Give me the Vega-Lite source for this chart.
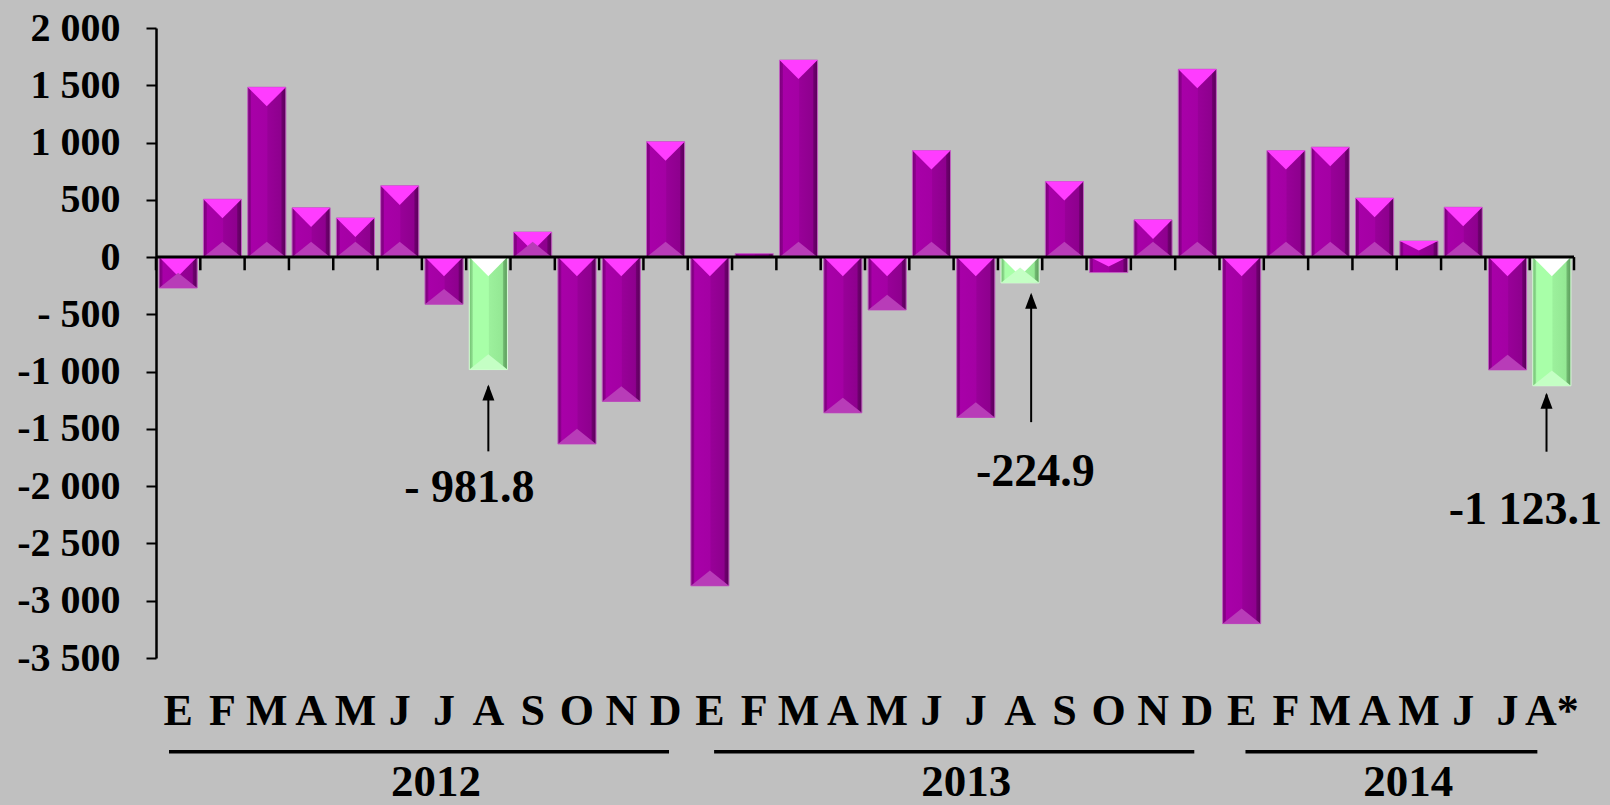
{
  "$schema": "https://vega.github.io/schema/vega-lite/v6.json",
  "width": 1418,
  "height": 630,
  "autosize": {"type": "none"},
  "padding": {"left": 156, "top": 28, "right": 36, "bottom": 147},
  "background": "#C0C0C0",
  "config": {
    "view": {"stroke": null},
    "font": "Liberation Serif",
    "axis": {"grid": false, "labelFont": "Liberation Serif", "labelFontWeight": "bold", "labelColor": "#000000", "domainColor": "#000000", "tickColor": "#000000"}
  },
  "data": {
    "values": [
      {"key": "2012-01:E", "value": -270, "hl": "n"},
      {"key": "2012-02:F", "value": 505, "hl": "n"},
      {"key": "2012-03:M", "value": 1483, "hl": "n"},
      {"key": "2012-04:A", "value": 430, "hl": "n"},
      {"key": "2012-05:M", "value": 342, "hl": "n"},
      {"key": "2012-06:J", "value": 622, "hl": "n"},
      {"key": "2012-07:J", "value": -412, "hl": "n"},
      {"key": "2012-08:A", "value": -981.8, "hl": "y"},
      {"key": "2012-09:S", "value": 219, "hl": "n"},
      {"key": "2012-10:O", "value": -1632, "hl": "n"},
      {"key": "2012-11:N", "value": -1260, "hl": "n"},
      {"key": "2012-12:D", "value": 1008, "hl": "n"},
      {"key": "2013-01:E", "value": -2870, "hl": "n"},
      {"key": "2013-02:F", "value": 30, "hl": "n"},
      {"key": "2013-03:M", "value": 1720, "hl": "n"},
      {"key": "2013-04:A", "value": -1360, "hl": "n"},
      {"key": "2013-05:M", "value": -462, "hl": "n"},
      {"key": "2013-06:J", "value": 930, "hl": "n"},
      {"key": "2013-07:J", "value": -1400, "hl": "n"},
      {"key": "2013-08:A", "value": -224.9, "hl": "y"},
      {"key": "2013-09:S", "value": 660, "hl": "n"},
      {"key": "2013-10:O", "value": -135, "hl": "n"},
      {"key": "2013-11:N", "value": 325, "hl": "n"},
      {"key": "2013-12:D", "value": 1640, "hl": "n"},
      {"key": "2014-01:E", "value": -3200, "hl": "n"},
      {"key": "2014-02:F", "value": 930, "hl": "n"},
      {"key": "2014-03:M", "value": 960, "hl": "n"},
      {"key": "2014-04:A", "value": 515, "hl": "n"},
      {"key": "2014-05:M", "value": 140, "hl": "n"},
      {"key": "2014-06:J", "value": 435, "hl": "n"},
      {"key": "2014-07:J", "value": -985, "hl": "n"},
      {"key": "2014-08:A*", "value": -1123.1, "hl": "y"}
    ]
  },
  "layer": [
    {
      "mark": {"type": "bar", "strokeWidth": 1},
      "encoding": {
        "x": {
          "field": "key", "type": "nominal", "sort": "ascending",
          "scale": {"type": "band", "paddingInner": 0.14, "paddingOuter": 0.07},
          "axis": {"title": null, "orient": "bottom", "domain": false, "ticks": false, "labelAngle": 0, "labelFontSize": 44, "labelPadding": 31, "labelOverlap": false, "labelBound": false, "labelExpr": "split(datum.value, ':')[1]"}
        },
        "y": {
          "field": "value", "type": "quantitative",
          "scale": {"domain": [-3500, 2000], "nice": false, "zero": true},
          "axis": {"title": null, "values": [-3500, -3000, -2500, -2000, -1500, -1000, -500, 0, 500, 1000, 1500, 2000], "labelFontSize": 40, "labelPadding": 26, "tickSize": 10, "tickWidth": 2, "domainWidth": 2.5,
            "labelExpr": "datum.value == -500 ? '- 500' : (datum.value < 0 ? '-' : '') + replace(format(abs(datum.value), ','), ',', ' ')"}
        },
        "fill": {
          "condition": {"test": "datum.hl == 'y'", "value": {"gradient": "linear", "x1": 0, "x2": 1, "y1": 0, "y2": 0, "stops": [
            {"offset": 0, "color": "#6FBF6F"}, {"offset": 0.08, "color": "#8EDC8E"}, {"offset": 0.1, "color": "#A8FFA8"}, {"offset": 0.5, "color": "#A8FFA8"}, {"offset": 0.53, "color": "#9CF09C"}, {"offset": 0.87, "color": "#94E894"}, {"offset": 0.9, "color": "#70B870"}, {"offset": 1, "color": "#5A9C5A"}]}},
          "value": {"gradient": "linear", "x1": 0, "x2": 1, "y1": 0, "y2": 0, "stops": [
            {"offset": 0, "color": "#780078"}, {"offset": 0.08, "color": "#8E008E"}, {"offset": 0.1, "color": "#A800A8"}, {"offset": 0.5, "color": "#A400A4"}, {"offset": 0.53, "color": "#980098"}, {"offset": 0.87, "color": "#8E008E"}, {"offset": 0.9, "color": "#6E006E"}, {"offset": 1, "color": "#5A005A"}]}
        },
        "stroke": {"condition": {"test": "datum.hl == 'y'", "value": "#D8FFD8"}, "value": "#C060C0"}
      }
    },
    {
      "transform": [{"filter": "datum.value >= 200"}],
      "mark": {"type": "point", "filled": true, "opacity": 1, "shape": "M-1,0 L1,0 L0,1 Z", "size": 1450},
      "encoding": {
        "x": {"field": "key", "type": "nominal", "sort": "ascending"},
        "y": {"field": "value", "type": "quantitative"},
        "fill": {"condition": {"test": "datum.hl == 'y'", "value": "#FFFFFF"}, "value": "#FF3CFF"}
      }
    },
    {
      "transform": [{"filter": "datum.value <= -200"}],
      "mark": {"type": "point", "filled": true, "opacity": 1, "shape": "M-1,0 L1,0 L0,1 Z", "size": 1450},
      "encoding": {
        "x": {"field": "key", "type": "nominal", "sort": "ascending"},
        "y": {"datum": 0},
        "fill": {"condition": {"test": "datum.hl == 'y'", "value": "#FFFFFF"}, "value": "#FF3CFF"}
      }
    },
    {
      "transform": [{"filter": "datum.value >= 200"}],
      "mark": {"type": "point", "filled": true, "opacity": 1, "shape": "M-1,0 L1,0 L0,-0.8 Z", "size": 1450},
      "encoding": {
        "x": {"field": "key", "type": "nominal", "sort": "ascending"},
        "y": {"datum": 0},
        "fill": {"condition": {"test": "datum.hl == 'y'", "value": "#C4FFC4"}, "value": "#B83CB8"}
      }
    },
    {
      "transform": [{"filter": "datum.value <= -200"}],
      "mark": {"type": "point", "filled": true, "opacity": 1, "shape": "M-1,0 L1,0 L0,-0.8 Z", "size": 1450},
      "encoding": {
        "x": {"field": "key", "type": "nominal", "sort": "ascending"},
        "y": {"field": "value", "type": "quantitative"},
        "fill": {"condition": {"test": "datum.hl == 'y'", "value": "#C4FFC4"}, "value": "#B83CB8"}
      }
    },
    {
      "transform": [{"filter": "datum.value < 200 && datum.value >= 100"}],
      "mark": {"type": "point", "filled": true, "opacity": 1, "shape": "M-1,0 L1,0 L0,0.5 Z", "size": 1450},
      "encoding": {
        "x": {"field": "key", "type": "nominal", "sort": "ascending"},
        "y": {"field": "value", "type": "quantitative"},
        "fill": {"value": "#FF3CFF"}
      }
    },
    {
      "transform": [{"filter": "datum.value > -200 && datum.value <= -100"}],
      "mark": {"type": "point", "filled": true, "opacity": 1, "shape": "M-1,0 L1,0 L0,0.5 Z", "size": 1450},
      "encoding": {
        "x": {"field": "key", "type": "nominal", "sort": "ascending"},
        "y": {"datum": 0},
        "fill": {"value": "#FF3CFF"}
      }
    },
    {
      "data": {"values": [{}]},
      "mark": {"type": "rule", "color": "#000000", "strokeWidth": 3},
      "encoding": {"y": {"datum": 0}}
    },
    {
      "mark": {"type": "rule", "color": "#000000", "strokeWidth": 2.5},
      "encoding": {
        "x": {"field": "key", "type": "nominal", "sort": "ascending", "bandPosition": -0.0814},
        "y": {"datum": 0},
        "y2": {"datum": -115}
      }
    },
    {
      "data": {"values": [{}]},
      "mark": {"type": "rule", "color": "#000000", "strokeWidth": 2.5},
      "encoding": {
        "x": {"datum": "2014-08:A*", "bandPosition": 1.0814},
        "y": {"datum": 0},
        "y2": {"datum": -115}
      }
    },
    {
      "data": {"values": [{}]},
      "layer": [
        {"mark": {"type": "rule", "color": "#000000", "strokeWidth": 2}, "encoding": {"x": {"datum": "2012-08:A", "bandPosition": 0.5}, "y": {"datum": -1130}, "y2": {"datum": -1696}}},
        {"mark": {"type": "point", "filled": true, "opacity": 1, "color": "#000000", "shape": "M0,0 L-0.6,1.6 L0.6,1.6 Z", "size": 400}, "encoding": {"x": {"datum": "2012-08:A", "bandPosition": 0.5}, "y": {"datum": -1112}}},
        {"mark": {"type": "text", "font": "Liberation Serif", "fontWeight": "bold", "fontSize": 46, "color": "#000000", "align": "center", "baseline": "middle"}, "encoding": {"x": {"datum": "2012-08:A", "bandPosition": 0.0}, "y": {"datum": -2020}, "text": {"value": "- 981.8"}}},
        {"mark": {"type": "rule", "color": "#000000", "strokeWidth": 2}, "encoding": {"x": {"datum": "2013-08:A", "bandPosition": 0.79}, "y": {"datum": -330}, "y2": {"datum": -1441}}},
        {"mark": {"type": "point", "filled": true, "opacity": 1, "color": "#000000", "shape": "M0,0 L-0.6,1.6 L0.6,1.6 Z", "size": 400}, "encoding": {"x": {"datum": "2013-08:A", "bandPosition": 0.79}, "y": {"datum": -312}}},
        {"mark": {"type": "text", "font": "Liberation Serif", "fontWeight": "bold", "fontSize": 46, "color": "#000000", "align": "center", "baseline": "middle"}, "encoding": {"x": {"datum": "2013-08:A", "bandPosition": 0.9}, "y": {"datum": -1875}, "text": {"value": "-224.9"}}},
        {"mark": {"type": "rule", "color": "#000000", "strokeWidth": 2}, "encoding": {"x": {"datum": "2014-08:A*", "bandPosition": 0.36}, "y": {"datum": -1200}, "y2": {"datum": -1699}}},
        {"mark": {"type": "point", "filled": true, "opacity": 1, "color": "#000000", "shape": "M0,0 L-0.6,1.6 L0.6,1.6 Z", "size": 400}, "encoding": {"x": {"datum": "2014-08:A*", "bandPosition": 0.36}, "y": {"datum": -1185}}},
        {"mark": {"type": "text", "font": "Liberation Serif", "fontWeight": "bold", "fontSize": 46, "color": "#000000", "align": "center", "baseline": "middle"}, "encoding": {"x": {"datum": "2014-07:J", "bandPosition": 0.97}, "y": {"datum": -2205}, "text": {"value": "-1 123.1"}}}
      ]
    },
    {
      "data": {"values": [{}]},
      "layer": [
        {"mark": {"type": "rule", "color": "#000000", "strokeWidth": 3.5}, "encoding": {"x": {"datum": "2012-01:E", "bandPosition": 0.26}, "x2": {"datum": "2012-12:D", "bandPosition": 0.59}, "y": {"datum": -4318}}},
        {"mark": {"type": "rule", "color": "#000000", "strokeWidth": 3.5}, "encoding": {"x": {"datum": "2013-01:E", "bandPosition": 0.61}, "x2": {"datum": "2013-12:D", "bandPosition": 0.42}, "y": {"datum": -4318}}},
        {"mark": {"type": "rule", "color": "#000000", "strokeWidth": 3.5}, "encoding": {"x": {"datum": "2014-01:E", "bandPosition": 0.6}, "x2": {"datum": "2014-08:A*", "bandPosition": 0.12}, "y": {"datum": -4318}}},
        {"mark": {"type": "text", "font": "Liberation Serif", "fontWeight": "bold", "fontSize": 45, "color": "#000000", "align": "center", "baseline": "middle"}, "encoding": {"x": {"datum": "2012-07:J", "bandPosition": 0.29}, "y": {"datum": -4585}, "text": {"value": "2012"}}},
        {"mark": {"type": "text", "font": "Liberation Serif", "fontWeight": "bold", "fontSize": 45, "color": "#000000", "align": "center", "baseline": "middle"}, "encoding": {"x": {"datum": "2013-07:J", "bandPosition": 0.25}, "y": {"datum": -4585}, "text": {"value": "2013"}}},
        {"mark": {"type": "text", "font": "Liberation Serif", "fontWeight": "bold", "fontSize": 45, "color": "#000000", "align": "center", "baseline": "middle"}, "encoding": {"x": {"datum": "2014-05:M", "bandPosition": 0.22}, "y": {"datum": -4585}, "text": {"value": "2014"}}}
      ]
    }
  ]
}
